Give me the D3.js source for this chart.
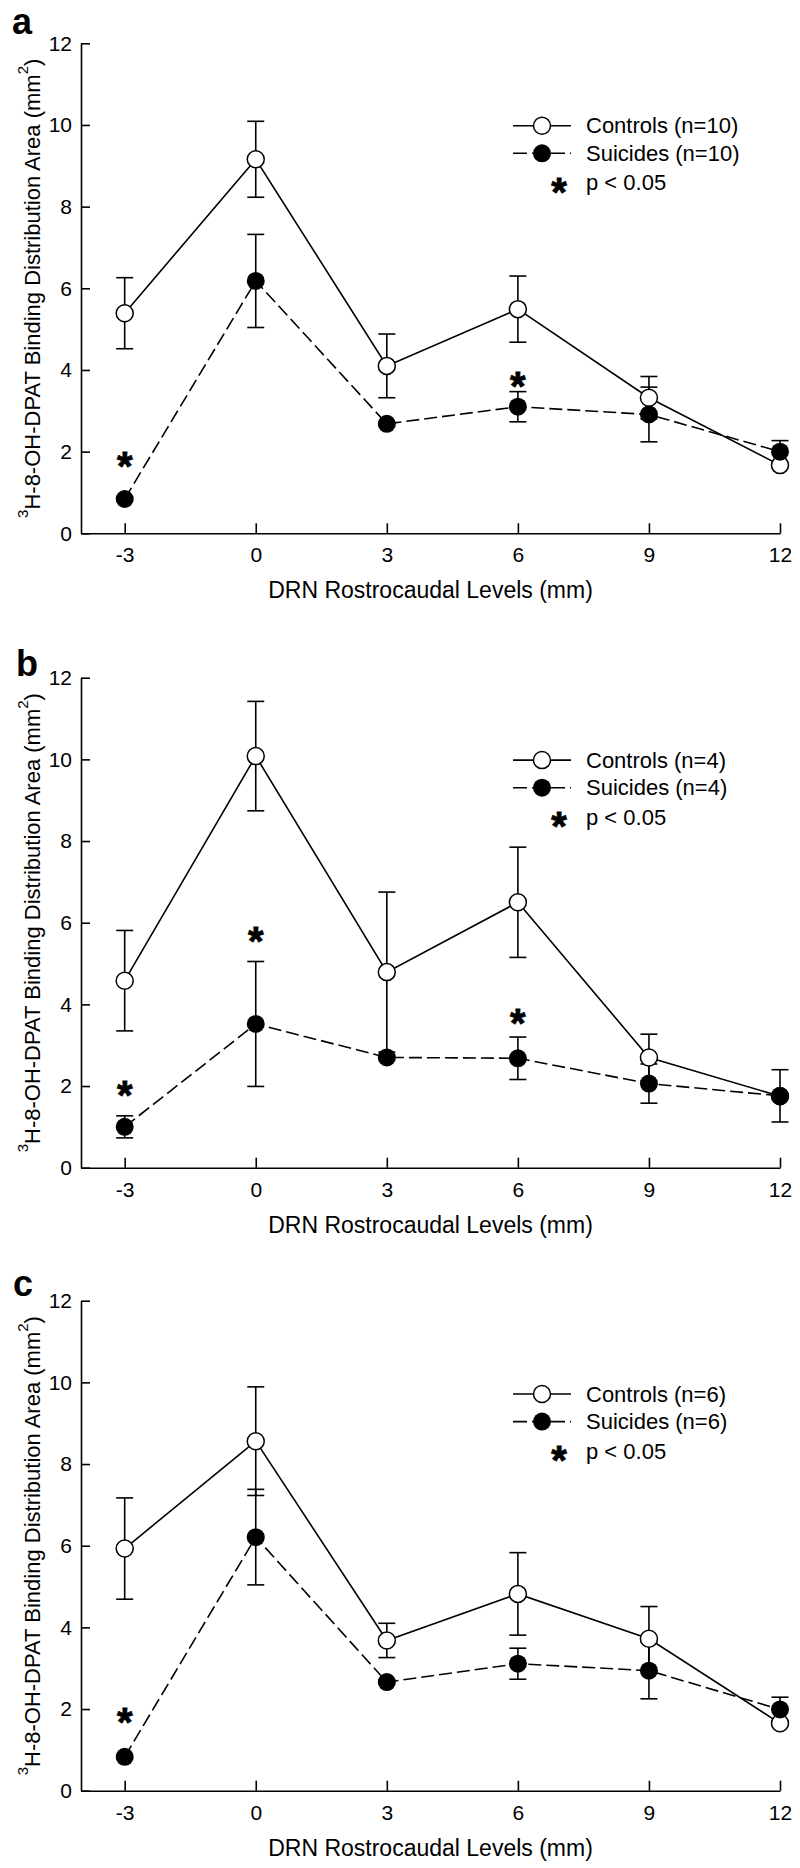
<!DOCTYPE html>
<html>
<head>
<meta charset="utf-8">
<script src="https://cdn.jsdelivr.net/npm/d3@7"></script>
<style>
  body { margin: 0; background: #fff; }
  svg { display: block; font-family: Arial, "Liberation Sans", Helvetica, sans-serif; }
</style>
</head>
<body>
<svg id="chart"></svg>
<script>
// rostrocaudal levels (mm) and axis ticks
const levels = [-3, 0, 3, 6, 9, 12];
const yTickValues = [0, 2, 4, 6, 8, 10, 12];
const panelLetters = ["a", "b", "c"];
const groupSizes = [10, 4, 6];

// panel a
const controlsA = [5.39, 9.16, 4.10, 5.49, 3.32, 1.67];
const controlsErrA = [0.87, 0.93, 0.78, 0.81, 0.52, 0.05];
const suicidesA = [0.84, 6.18, 2.68, 3.10, 2.91, 2.00];
const suicidesErrA = [0.05, 1.14, 0.05, 0.37, 0.67, 0.27];
const starsA = [[-3, 1.88], [6, 3.84]];

// panel b
const controlsB = [4.58, 10.08, 4.79, 6.50, 2.70, 1.75];
const controlsErrB = [1.23, 1.34, 1.96, 1.35, 0.57, 0.05];
const suicidesB = [1.00, 3.52, 2.70, 2.68, 2.06, 1.76];
const suicidesErrB = [0.27, 1.53, 0.05, 0.52, 0.48, 0.64];
const starsB = [[-3, 2.0], [0, 5.77], [6, 3.76]];

// panel c
const controlsC = [5.93, 8.56, 3.68, 4.82, 3.72, 1.65];
const controlsErrC = [1.24, 1.33, 0.42, 1.01, 0.79, 0.05];
const suicidesC = [0.83, 6.21, 2.66, 3.11, 2.94, 1.99];
const suicidesErrC = [0.05, 1.17, 0.05, 0.38, 0.69, 0.30];
const starsC = [[-3, 1.91]];

const panels = [
  { controls: controlsA, controlsErr: controlsErrA, suicides: suicidesA, suicidesErr: suicidesErrA, stars: starsA },
  { controls: controlsB, controlsErr: controlsErrB, suicides: suicidesB, suicidesErr: suicidesErrB, stars: starsB },
  { controls: controlsC, controlsErr: controlsErrC, suicides: suicidesC, suicidesErr: suicidesErrC, stars: starsC }
];

// layout
const W = 800, H = 1868;
const plotLeft = 81, plotRight = 780, plotH = 490;
const panelTops = [43.3, 677.7, 1300.7];
const letterPos = [[12, 34], [16, 676], [13, 1296]];
const legendOffsets = [82.4, 82.4, 93.3];
const capW = 8.5;

const svg = d3.select("#chart")
  .attr("width", W)
  .attr("height", H);

const xScale = d3.scaleLinear()
  .domain([-4, 12])
  .range([plotLeft, plotRight]);

function star(g, x, y, size) {
  // asterisk centred on (x, y)
  g.append("text")
    .attr("x", x)
    .attr("y", y + size * 0.58)
    .attr("text-anchor", "middle")
    .attr("font-weight", "bold")
    .attr("font-size", size)
    .attr("stroke", "#000")
    .attr("stroke-width", 0.8)
    .text("*");
}

panels.forEach((p, i) => {
  const top = panelTops[i];
  const g = svg.append("g");

  const yScale = d3.scaleLinear()
    .domain([0, 12])
    .range([top + plotH, top]);

  // axes, ticks pointing inward
  g.append("g")
    .attr("transform", `translate(0,${top + plotH})`)
    .call(d3.axisBottom(xScale).tickValues(levels).tickFormat(d => String(d))
      .tickSizeInner(-10).tickSizeOuter(0).tickPadding(14))
    .call(a => a.selectAll("text").attr("font-size", 21).attr("font-family", null));

  g.append("g")
    .attr("transform", `translate(${plotLeft},0)`)
    .call(d3.axisLeft(yScale).tickValues(yTickValues).tickFormat(d => String(d))
      .tickSizeInner(-9).tickSizeOuter(0).tickPadding(9))
    .call(a => a.selectAll("text").attr("font-size", 21).attr("font-family", null));

  g.selectAll(".domain, .tick line").attr("stroke", "#000").attr("stroke-width", 1.6);

  // axis titles
  g.append("text")
    .attr("x", (plotLeft + plotRight) / 2)
    .attr("y", top + plotH + 65)
    .attr("text-anchor", "middle")
    .attr("font-size", 23)
    .text("DRN Rostrocaudal Levels (mm)");

  const yt = g.append("text")
    .attr("transform", `translate(40,${top + plotH / 2}) rotate(-90)`)
    .attr("text-anchor", "middle")
    .attr("font-size", 22);
  yt.append("tspan").attr("font-size", 15).attr("dy", -12).text("3");
  yt.append("tspan").attr("dy", 12).text("H-8-OH-DPAT Binding Distribution Area (mm");
  yt.append("tspan").attr("font-size", 15).attr("dy", -12).text("2");
  yt.append("tspan").attr("dy", 12).text(")");

  // panel letter
  g.append("text")
    .attr("x", letterPos[i][0])
    .attr("y", letterPos[i][1])
    .attr("font-size", 36)
    .attr("font-weight", "bold")
    .text(panelLetters[i]);

  const line = d3.line()
    .x((d, j) => xScale(levels[j]))
    .y(d => yScale(d));

  g.append("path")
    .datum(p.controls)
    .attr("d", line)
    .attr("fill", "none")
    .attr("stroke", "#000")
    .attr("stroke-width", 1.6);

  g.append("path")
    .datum(p.suicides)
    .attr("d", line)
    .attr("fill", "none")
    .attr("stroke", "#000")
    .attr("stroke-width", 1.6)
    .attr("stroke-dasharray", "13,5");

  // error bars
  const bars = [
    ...p.controls.map((v, j) => ({ x: levels[j], v, e: p.controlsErr[j] })),
    ...p.suicides.map((v, j) => ({ x: levels[j], v, e: p.suicidesErr[j] }))
  ];
  const eb = g.selectAll(".eb")
    .data(bars)
    .enter()
    .append("g")
    .attr("stroke", "#000")
    .attr("stroke-width", 1.6);
  eb.append("line")
    .attr("x1", d => xScale(d.x)).attr("x2", d => xScale(d.x))
    .attr("y1", d => yScale(d.v - d.e)).attr("y2", d => yScale(d.v + d.e));
  eb.append("line")
    .attr("x1", d => xScale(d.x) - capW).attr("x2", d => xScale(d.x) + capW)
    .attr("y1", d => yScale(d.v + d.e)).attr("y2", d => yScale(d.v + d.e));
  eb.append("line")
    .attr("x1", d => xScale(d.x) - capW).attr("x2", d => xScale(d.x) + capW)
    .attr("y1", d => yScale(d.v - d.e)).attr("y2", d => yScale(d.v - d.e));

  // markers
  g.selectAll(".ctrl")
    .data(p.controls)
    .enter()
    .append("circle")
    .attr("cx", (d, j) => xScale(levels[j]))
    .attr("cy", d => yScale(d))
    .attr("r", 8.5)
    .attr("fill", "#fff")
    .attr("stroke", "#000")
    .attr("stroke-width", 1.5);

  g.selectAll(".sui")
    .data(p.suicides)
    .enter()
    .append("circle")
    .attr("cx", (d, j) => xScale(levels[j]))
    .attr("cy", d => yScale(d))
    .attr("r", 9)
    .attr("fill", "#000");

  p.stars.forEach(s => star(g, xScale(s[0]), yScale(s[1]), 40));

  // legend
  const ly = top + legendOffsets[i];
  const rows = [ly, ly + 27.6, ly + 57];
  const lg = g.append("g");
  lg.append("line")
    .attr("x1", 513).attr("x2", 571).attr("y1", rows[0]).attr("y2", rows[0])
    .attr("stroke", "#000").attr("stroke-width", 1.6);
  lg.append("circle")
    .attr("cx", 542).attr("cy", rows[0]).attr("r", 8.5)
    .attr("fill", "#fff").attr("stroke", "#000").attr("stroke-width", 1.5);
  lg.append("line")
    .attr("x1", 513).attr("x2", 571).attr("y1", rows[1]).attr("y2", rows[1])
    .attr("stroke", "#000").attr("stroke-width", 1.6)
    .attr("stroke-dasharray", "14,5");
  lg.append("circle")
    .attr("cx", 542).attr("cy", rows[1]).attr("r", 9)
    .attr("fill", "#000");
  star(lg, 559, rows[2], 40);

  const labels = [`Controls (n=${groupSizes[i]})`, `Suicides (n=${groupSizes[i]})`, "p < 0.05"];
  lg.selectAll(".lt")
    .data(labels)
    .enter()
    .append("text")
    .attr("x", 586)
    .attr("y", (d, k) => rows[k])
    .attr("dy", "0.35em")
    .attr("font-size", 22)
    .text(d => d);
});
</script>
</body>
</html>
